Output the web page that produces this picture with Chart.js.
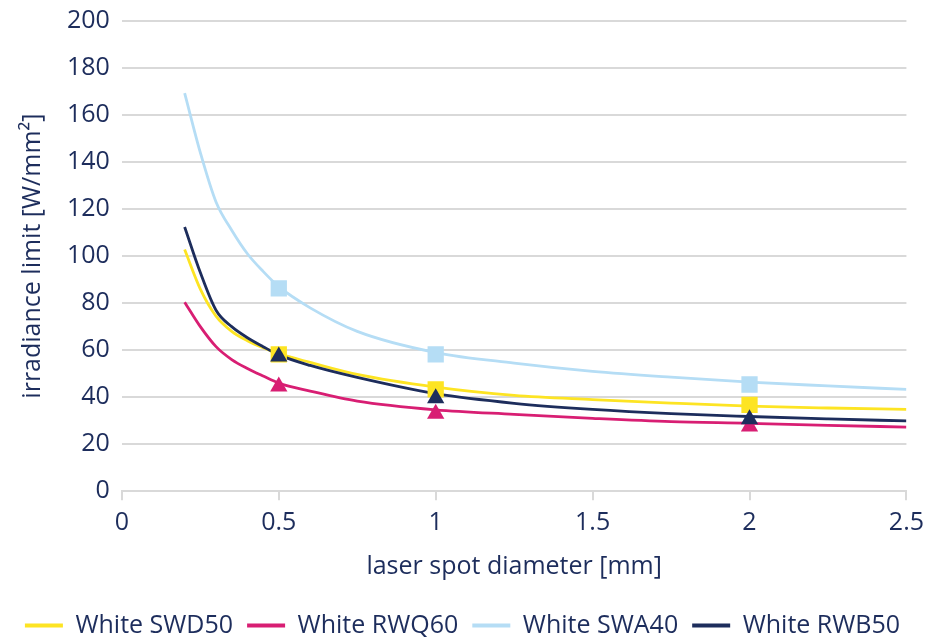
<!DOCTYPE html>
<html>
<head>
<meta charset="utf-8">
<script src="https://cdn.jsdelivr.net/npm/chart.js@4/dist/chart.umd.min.js"></script>
<style>
    body { margin: 0; background: #fff; }
    #grafico { display: block; }
</style>
</head>
<body>
<canvas id="grafico" width="925" height="637"></canvas>
<script>
// x positions of the fitted curves (mm)
const diametrosCurva = [0.2, 0.25, 0.3, 0.35, 0.4, 0.45, 0.5, 0.6, 0.75, 1, 1.25, 1.5, 1.75, 2, 2.25, 2.5];
const curvaSWD50 = [102.8, 86, 74.5, 68, 64, 61, 58.5, 54.8, 49.7, 44.3, 40.8, 39, 37.5, 36.2, 35.4, 34.8];
const curvaRWQ60 = [80.4, 70, 61.5, 56, 52.2, 49, 46, 42.6, 38.3, 34.6, 32.7, 31, 29.6, 28.9, 28, 27.3];
const curvaSWA40 = [169.3, 144, 123, 111, 101, 93.5, 87, 78, 68, 59, 54.5, 51, 48.5, 46.4, 44.8, 43.3];
const curvaRWB50 = [112.4, 93, 77, 70, 65.3, 61.5, 58, 53.5, 48.4, 41.5, 37.4, 34.8, 33, 31.8, 30.8, 29.9];

// measured points
const diametrosMedidos = [0.5, 1, 2];
const medidasSWD50 = [58.2, 43.3, 36.7];
const medidasRWQ60 = [44.6, 33, 27.5];
const medidasSWA40 = [86.3, 58.2, 45.4];
const medidasRWB50 = [57.3, 39.6, 30.6];

const nomes = ["White SWD50", "White RWQ60", "White SWA40", "White RWB50"];
const cores = ["#fde423", "#d81e73", "#b5ddf5", "#1d2d5c"];
const corTexto = "#1d2d5c";
const corGrade = "#d9d9d9";
const fonte = "'Open Sans', sans-serif";
const tamanhoFonte = 25;

function pontos(xs, ys) {
    return xs.map((x, i) => ({ x: x, y: ys[i] }));
}

function criarGrafico() {
    const curvas = [curvaSWD50, curvaRWQ60, curvaSWA40, curvaRWB50];
    const medidas = [medidasSWD50, medidasRWQ60, medidasSWA40, medidasRWB50];
    const estilos = ["rect", "triangle", "rect", "triangle"];
    const ordemLinha = [7, 8, 6, 5];
    const ordemPonto = [3, 4, 2, 1];

    const datasets = new Array();

    curvas.forEach((curva, i) => {
        datasets.push({
            label: nomes[i],
            data: pontos(diametrosCurva, curva),
            showLine: true,
            borderColor: cores[i],
            backgroundColor: cores[i],
            borderWidth: 2.8,
            pointRadius: 0,
            cubicInterpolationMode: "monotone",
            order: ordemLinha[i]
        });
    });

    medidas.forEach((medida, i) => {
        datasets.push({
            label: nomes[i] + " pontos",
            data: pontos(diametrosMedidos, medida),
            showLine: false,
            pointStyle: estilos[i],
            pointRadius: estilos[i] == "rect" ? 11.5 : 10,
            pointBorderWidth: 0,
            backgroundColor: cores[i],
            borderColor: cores[i],
            order: ordemPonto[i]
        });
    });

    const ctx = document.querySelector("#grafico");

    return new Chart(ctx, {
        type: "scatter",
        data: { datasets: datasets },
        options: {
            responsive: false,
            animation: false,
            layout: { padding: { top: 0, right: 0, left: 0, bottom: -11 } },
            plugins: {
                tooltip: { enabled: false },
                legend: {
                    position: "bottom",
                    labels: {
                        color: corTexto,
                        font: { family: fonte, size: tamanhoFonte },
                        boxWidth: 38,
                        boxHeight: 4,
                        padding: 14,
                        generateLabels: (chart) => Chart.defaults.plugins.legend.labels.generateLabels(chart)
                            .filter(item => item.datasetIndex < 4)
                            .sort((a, b) => a.datasetIndex - b.datasetIndex)
                            .map(item => Object.assign(item, { lineWidth: 0 }))
                    }
                }
            },
            scales: {
                x: {
                    type: "linear",
                    min: 0,
                    max: 2.5,
                    ticks: {
                        stepSize: 0.5,
                        color: corTexto,
                        font: { family: fonte, size: tamanhoFonte, lineHeight: 1.75 },
                        padding: 1,
                        callback: (valor) => String(Number(valor))
                    },
                    grid: {
                        drawOnChartArea: false,
                        color: corGrade,
                        lineWidth: 2,
                        tickLength: 9
                    },
                    border: { color: corGrade, width: 2 },
                    title: {
                        display: true,
                        text: "laser spot diameter [mm]",
                        color: corTexto,
                        font: { family: fonte, size: tamanhoFonte },
                        padding: { top: 6, bottom: 17 }
                    }
                },
                y: {
                    min: 0,
                    max: 200,
                    ticks: {
                        stepSize: 20,
                        color: corTexto,
                        font: { family: fonte, size: tamanhoFonte, lineHeight: 0.72 },
                        padding: 12
                    },
                    grid: {
                        color: corGrade,
                        lineWidth: 2,
                        drawTicks: false
                    },
                    border: { display: false },
                    title: {
                        display: true,
                        text: "irradiance limit [W/mm²]",
                        color: corTexto,
                        font: { family: fonte, size: tamanhoFonte },
                        padding: { top: 18, bottom: 7 }
                    }
                }
            }
        }
    });
}

criarGrafico();
</script>
</body>
</html>
